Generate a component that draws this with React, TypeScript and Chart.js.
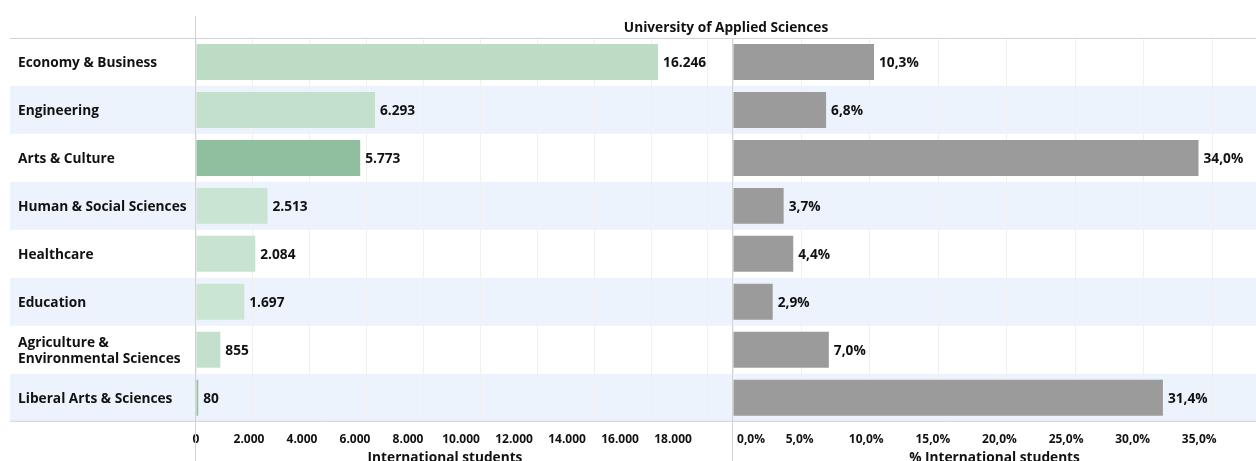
import React, { useEffect, useRef } from 'react';
import { Chart, registerables } from 'chart.js';

Chart.register(...registerables);

// ---------- data ----------
const categories: (string | string[])[] = [
  'Economy & Business',
  'Engineering',
  'Arts & Culture',
  'Human & Social Sciences',
  'Healthcare',
  'Education',
  ['Agriculture &', 'Environmental Sciences'],
  'Liberal Arts & Sciences',
];
const students = [16246, 6293, 5773, 2513, 2084, 1697, 855, 80];
const pctInternational = [10.3, 6.8, 34.0, 3.7, 4.4, 2.9, 7.0, 31.4];

const studentTicks = [0, 2000, 4000, 6000, 8000, 10000, 12000, 14000, 16000, 18000];
const pctTicks = [0, 5, 10, 15, 20, 25, 30, 35];

const chartTitle = 'University of Applied Sciences';
const studentsAxisTitle = 'International students';
const pctAxisTitle = '% International students';

// ---------- styles ----------
const FONT = "'Open Sans', 'DejaVu Sans', sans-serif";
const TEXT = '#111111';
const BAND = '#ecf3fd';
const GRID = '#f0f0f0';
const RULE = '#d3d3d3';
const GREY_BAR = '#9b9b9b';
const RAMP_LIGHT = [203, 229, 211];
const RAMP_DARK = [143, 191, 158];
const BAND_LEFT = 10;

const fmtInt = (v: number) =>
  Math.round(v).toString().replace(/\B(?=(\d{3})+(?!\d))/g, '.');
const fmtPct = (v: number) => v.toFixed(1).replace('.', ',') + '%';

const pMin = Math.min(...pctInternational);
const pMax = Math.max(...pctInternational);
const rampColor = (p: number) => {
  const t = (p - pMin) / (pMax - pMin);
  const c = RAMP_LIGHT.map((l, i) => Math.round(l + (RAMP_DARK[i] - l) * t));
  return `rgb(${c[0]},${c[1]},${c[2]})`;
};

const setTicks = (values: number[]) => (s: any) => {
  s.ticks = values.map((value) => ({ value }));
};
const noEdgePadding = (s: any) => {
  s.paddingLeft = 0;
  s.paddingRight = 0;
};

const decorPlugin = {
  id: 'decor',
  beforeDraw(chart: any) {
    const { ctx, chartArea, scales } = chart;
    const y = scales.y;
    const n = categories.length;
    const band = (chartArea.bottom - chartArea.top) / n;
    ctx.save();
    ctx.fillStyle = BAND;
    for (let i = 0; i < n; i++) {
      if (i % 2 === 1) {
        const c = y.getPixelForValue(i);
        ctx.fillRect(BAND_LEFT, c - band / 2, chart.width - BAND_LEFT, band);
      }
    }
    ctx.restore();
  },
  afterDatasetsDraw(chart: any) {
    const { ctx } = chart;
    ctx.save();
    ctx.font = `bold 13.7px ${FONT}`;
    ctx.fillStyle = TEXT;
    ctx.textBaseline = 'middle';
    ctx.textAlign = 'left';
    chart.data.datasets.forEach((ds: any, di: number) => {
      const meta = chart.getDatasetMeta(di);
      meta.data.forEach((el: any, i: number) => {
        const v = ds.data[i];
        const txt = di === 0 ? fmtInt(v) : fmtPct(v);
        ctx.fillText(txt, el.x + 5, el.y + 1.5);
      });
    });
    ctx.restore();
  },
  afterDraw(chart: any) {
    const { ctx, chartArea, scales } = chart;
    ctx.save();
    ctx.strokeStyle = RULE;
    ctx.lineWidth = 1;
    ctx.beginPath();
    ctx.moveTo(BAND_LEFT, chartArea.top + 0.5);
    ctx.lineTo(chart.width, chartArea.top + 0.5);
    ctx.moveTo(BAND_LEFT, chartArea.bottom - 0.5);
    ctx.lineTo(chart.width, chartArea.bottom - 0.5);
    ctx.moveTo(chartArea.left - 0.5, scales.t.top);
    ctx.lineTo(chartArea.left - 0.5, chart.height);
    ctx.moveTo(scales.p.left - 0.5, chartArea.top);
    ctx.lineTo(scales.p.left - 0.5, chart.height);
    ctx.stroke();
    ctx.restore();
  },
};

export default function App() {
  const ref = useRef<HTMLCanvasElement | null>(null);

  useEffect(() => {
    if (!ref.current) return;
    const tickFont = { family: FONT, size: 12, weight: 'bold' as const, lineHeight: 1 };
    const titleFont = { family: FONT, size: 13.7, weight: 'bold' as const, lineHeight: 1 };
    const chart = new Chart(ref.current, {
      type: 'bar',
      data: {
        labels: categories as any,
        datasets: [
          {
            data: students,
            xAxisID: 'x',
            yAxisID: 'y',
            backgroundColor: pctInternational.map(rampColor),
            grouped: false,
            barPercentage: 0.75,
            categoryPercentage: 1,
          } as any,
          {
            data: pctInternational,
            xAxisID: 'p',
            yAxisID: 'y',
            backgroundColor: GREY_BAR,
            grouped: false,
            barPercentage: 0.75,
            categoryPercentage: 1,
          } as any,
        ],
      },
      options: {
        responsive: false,
        animation: false,
        indexAxis: 'y',
        layout: { padding: { left: 18, top: 16, right: 0, bottom: 0 } },
        plugins: {
          legend: { display: false },
          tooltip: { enabled: false },
          title: { display: false },
        },
        scales: {
          y: {
            type: 'category',
            position: 'left',
            grid: { display: false, drawTicks: false },
            border: { display: false },
            ticks: {
              crossAlign: 'far',
              color: TEXT,
              padding: 0,
              autoSkip: false,
              labelOffset: 1.5,
              font: { family: FONT, size: 13.7, weight: 'bold', lineHeight: 1.2 },
            },
            afterFit(s: any) {
              s.width = 178;
            },
          },
          x: {
            type: 'linear',
            position: 'bottom',
            stack: 'bars',
            stackWeight: 537,
            min: 0,
            max: 18880,
            grid: { color: GRID, drawTicks: false },
            border: { display: false },
            ticks: { display: false },
            afterBuildTicks: setTicks(studentTicks),
            afterFit: noEdgePadding,
          },
          p: {
            type: 'linear',
            position: 'bottom',
            stack: 'bars',
            stackWeight: 523,
            min: 0,
            max: 38.2,
            grid: { color: GRID, drawTicks: false },
            border: { display: false },
            ticks: { display: false },
            afterBuildTicks: setTicks(pctTicks),
            afterFit: noEdgePadding,
          },
          xl: {
            type: 'linear',
            position: 'bottom',
            stack: 'labels',
            stackWeight: 498,
            min: 0,
            max: 18790,
            grid: { display: false, drawTicks: false },
            border: { display: false },
            ticks: {
              autoSkip: false,
              maxRotation: 0,
              padding: 11.5,
              color: TEXT,
              font: tickFont,
              callback: (v: any) => fmtInt(Number(v)),
            },
            afterBuildTicks: setTicks(studentTicks),
            afterFit: noEdgePadding,
            title: {
              display: true,
              text: studentsAxisTitle,
              color: TEXT,
              font: titleFont,
              padding: { top: -5.5, bottom: 2 },
            },
          },
          gap: {
            type: 'linear',
            position: 'bottom',
            stack: 'labels',
            stackWeight: 39,
            min: 0,
            max: 1,
            grid: { display: false, drawTicks: false },
            border: { display: false },
            ticks: { display: false },
            afterFit: noEdgePadding,
          },
          pl: {
            type: 'linear',
            position: 'bottom',
            stack: 'labels',
            stackWeight: 523,
            min: 0,
            max: 39.26,
            grid: { display: false, drawTicks: false },
            border: { display: false },
            ticks: {
              autoSkip: false,
              maxRotation: 0,
              padding: 11.5,
              color: TEXT,
              font: tickFont,
              callback: (v: any) =>
                Number(v) === 0
                  ? '\u2002\u2002\u2002\u2002\u2002\u2002' + fmtPct(0)
                  : fmtPct(Number(v)),
            },
            afterBuildTicks: setTicks(pctTicks),
            afterFit: noEdgePadding,
            title: {
              display: true,
              text: pctAxisTitle,
              color: TEXT,
              font: titleFont,
              padding: { top: -5.5, bottom: 2 },
            },
          },
          t: {
            type: 'linear',
            position: 'top',
            min: 0,
            max: 1,
            grid: { display: false, drawTicks: false },
            border: { display: false },
            ticks: { display: false },
            afterFit: noEdgePadding,
            title: {
              display: true,
              text: chartTitle,
              color: TEXT,
              font: { family: FONT, size: 13.7, weight: 'bold', lineHeight: 1.2 },
              padding: { top: 3.5, bottom: 2 },
            },
          },
        } as any,
      },
      plugins: [decorPlugin],
    });
    return () => chart.destroy();
  }, []);

  return (
    <div
      style={{
        position: 'fixed',
        left: 0,
        top: 0,
        width: 1256,
        height: 461,
        overflow: 'hidden',
        background: '#ffffff',
      }}
    >
      <canvas ref={ref} width={1256} height={467} style={{ display: 'block' }} />
    </div>
  );
}
